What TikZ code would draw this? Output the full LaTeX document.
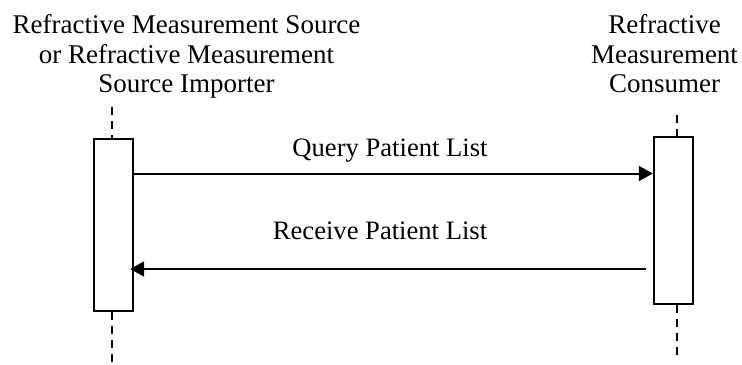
\documentclass[tikz,border=0pt]{standalone}
\usepackage{fontspec}
\setmainfont{Liberation Serif}
\usetikzlibrary{arrows.meta}
\begin{document}
\begin{tikzpicture}[x=0.5pt,y=-0.5pt,font=\fontsize{13.3}{14.75}\selectfont,
    actor/.style={align=center,anchor=north,inner sep=0pt,font=\fontsize{13.5}{14.75}\selectfont},
    bar/.style={draw,line width=1pt,minimum width=19.5pt,inner sep=0pt},
    life/.style={line width=1pt,dash pattern=on 4pt off 3pt},
    msg/.style={line width=1pt,-{Triangle[length=7pt,width=7.5pt]}}]
        \useasboundingbox (0,0) rectangle (742,364);

        \node[actor] at (186.5,14.5) (src) {Refractive Measurement Source\\or Refractive Measurement\\Source Importer};
        \node[actor] at (664.5,14.5) (cons) {Refractive\\Measurement\\Consumer};

        \node[bar,minimum height=86pt] at (113.7,225) (srcbar) {};
        \node[bar,minimum height=83.5pt] at (673.3,220.7) (consbar) {};

        \coordinate (srctop) at (111.7,107);
        \coordinate (srcbot) at (111.7,364);
        \coordinate (constop) at (677.3,115);
        \coordinate (consbot) at (677.3,358);
        \coordinate (query) at (0,173.5);
        \coordinate (receive) at (0,269);

        \draw [life] (srctop) -- (srctop |- srcbar.north);
        \draw [life] (srctop |- srcbar.south) -- (srcbot);
        \draw [life] (constop) -- (constop |- consbar.north);
        \draw [life] (constop |- consbar.south) -- (consbot);

        \draw [msg,shorten <=-1pt] (srcbar.east |- query) -- (consbar.west |- query);
        \draw [msg,shorten <=3.5pt,shorten >=-2pt] (consbar.west |- receive) -- (srcbar.east |- receive);

        \node[anchor=base] at (390,156) (querylbl) {Query Patient List};
        \node[anchor=base] at (380,239) (receivelbl) {Receive Patient List};
    \end{tikzpicture}
\end{document}
